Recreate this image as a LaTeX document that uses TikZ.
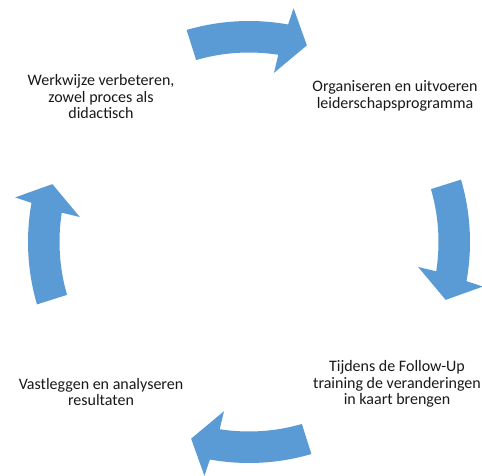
\documentclass[tikz,border=0pt]{standalone}
\usepackage{fontspec}
\setmainfont{Carlito}
\definecolor{arrowblue}{HTML}{5B9BD5}
\tikzset{
  cyclearrow/.style={fill=arrowblue, draw=none},
  lbl/.style={align=center, text=black!90, font=\fontsize{16}{16.5}\selectfont, inner sep=0pt}
}
\begin{document}
\begin{tikzpicture}[x=1pt,y=1pt]
\useasboundingbox (0,0) rectangle (482,475);
\fill[white] (0,0) rectangle (482,475);
\begin{scope}[shift={(249,233)}]
  \foreach \r in {0,-90,-180,90} {
    \fill[cyclearrow, rotate=\r] (106.4:221) arc[start angle=106.4, end angle=79.8, radius=221]
      -- (79.2:238) -- (73.6:205) -- (81.6:171) -- (81.1:189.5)
      arc[start angle=81.1, end angle=106.2, radius=189.5] -- cycle;
  }
\end{scope}
\node[lbl] (werk) at (101,378) {Werkwijze verbeteren,\\zowel proces als\\didactisch};
\node[lbl] (org) at (395,379) {Organiseren en uitvoeren\\leiderschapsprogramma};
\node[lbl] (tijd) at (397,91) {Tijdens de Follow-Up\\training de veranderingen\\in kaart brengen};
\node[lbl] (vast) at (101,83) {Vastleggen en analyseren\\resultaten};
\end{tikzpicture}
\end{document}
